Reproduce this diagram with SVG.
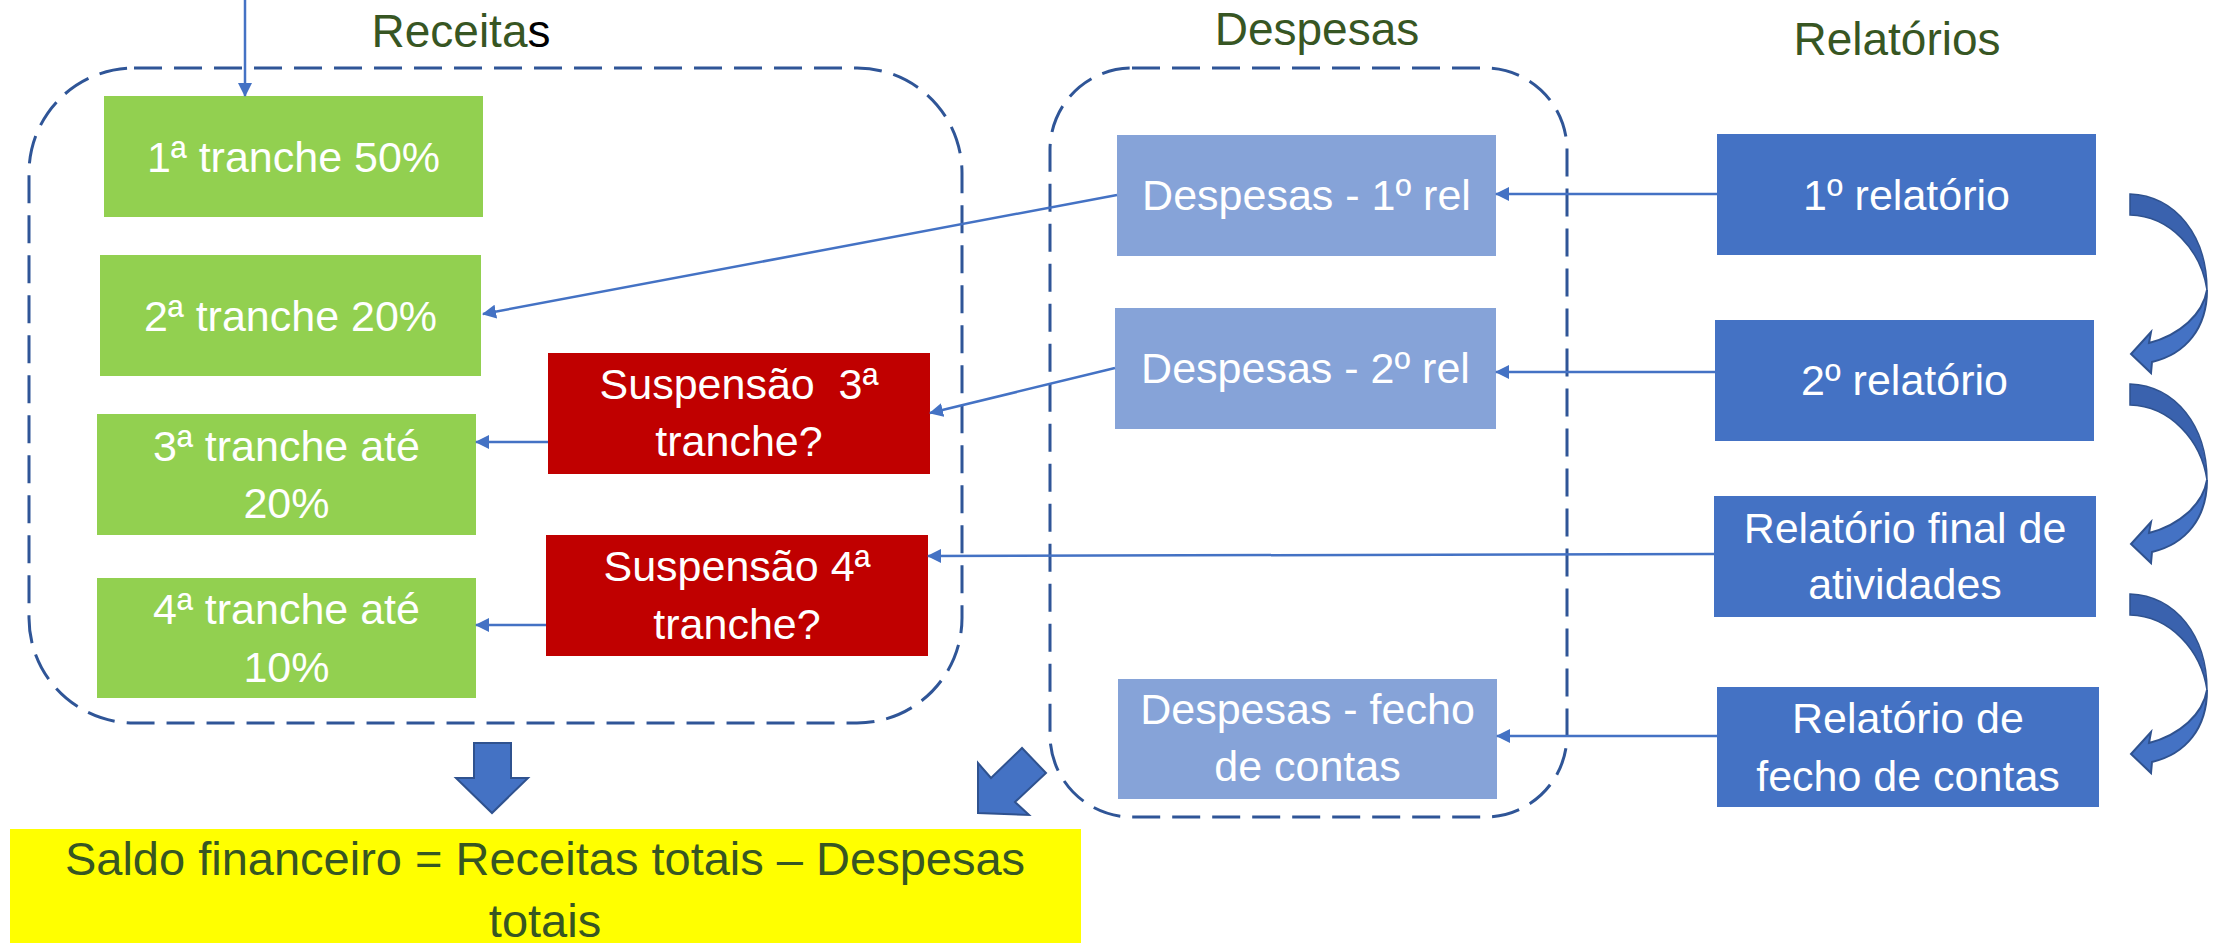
<svg xmlns="http://www.w3.org/2000/svg" width="2214" height="943" viewBox="0 0 2214 943">
<style>
text{font-family:"Liberation Sans",Arial,sans-serif;}
.t{fill:#fff;font-size:43px;text-anchor:middle;}
.title{fill:#375623;font-size:46px;text-anchor:middle;}
.green{fill:#92D050;}
.red{fill:#C00000;}
.lb{fill:#86A3D8;}
.db{fill:#4472C4;}
.dash{fill:none;stroke:#2F5597;stroke-width:3;stroke-dasharray:28 12;}
.con{fill:none;stroke:#4472C4;stroke-width:2.5;marker-end:url(#ah);}
.blk{fill:#4472C4;stroke:#2F528F;stroke-width:2;stroke-linejoin:miter;}
.back{fill:#3A62AE;stroke:#2F528F;stroke-width:1.5;}
</style>
<defs>
<marker id="ah" markerUnits="userSpaceOnUse" markerWidth="14" markerHeight="14" viewBox="0 0 14 14" refX="13" refY="7" orient="auto">
<path d="M0,0 L14,7 L0,14 Z" fill="#4472C4"/>
</marker>
<g id="curved">
<path class="back" d="M2130,194 C2176,196 2207,236 2207,290 C2201,250 2170,216 2130,215 Z"/>
<path class="blk" d="M2207,290 C2207,328 2186,354 2152,362 L2151,373 L2131,354 L2151,332 L2149,343 C2180,335 2203,314 2207,290 Z"/>
</g>
</defs>

<g id="titles">
<text class="title" x="461" y="47">Receita<tspan fill="#000">s</tspan></text>
<text class="title" x="1317" y="45">Despesas</text>
<text class="title" x="1897" y="55" font-size="47">Relatórios</text>
</g>

<g id="groups">
<rect id="receitas-group" class="dash" x="29" y="68" width="933" height="655" rx="105" ry="105"/>
<rect id="despesas-group" class="dash" x="1050" y="68" width="517" height="749" rx="82" ry="82"/>
</g>

<g id="tranche1"><rect class="green" x="104" y="96" width="379" height="121"/><text class="t" x="293.5" y="172">1ª tranche 50%</text></g>
<g id="tranche2"><rect class="green" x="100" y="255" width="381" height="121"/><text class="t" x="290.5" y="331">2ª tranche 20%</text></g>
<g id="tranche3"><rect class="green" x="97" y="414" width="379" height="121"/><text class="t" x="286.5" y="461">3ª tranche até</text><text class="t" x="286.5" y="518">20%</text></g>
<g id="tranche4"><rect class="green" x="97" y="578" width="379" height="120"/><text class="t" x="286.5" y="624">4ª tranche até</text><text class="t" x="286.5" y="682">10%</text></g>
<g id="susp3"><rect class="red" x="548" y="353" width="382" height="121"/><text class="t" x="739" y="399" xml:space="preserve">Suspensão  3ª</text><text class="t" x="739" y="456">tranche?</text></g>
<g id="susp4"><rect class="red" x="546" y="535" width="382" height="121"/><text class="t" x="737" y="581">Suspensão 4ª</text><text class="t" x="737" y="639">tranche?</text></g>

<g id="desp1"><rect class="lb" x="1117" y="135" width="379" height="121"/><text class="t" x="1306.5" y="210">Despesas - 1º rel</text></g>
<g id="desp2"><rect class="lb" x="1115" y="308" width="381" height="121"/><text class="t" x="1305.5" y="383">Despesas - 2º rel</text></g>
<g id="despfecho"><rect class="lb" x="1118" y="679" width="379" height="120"/><text class="t" x="1307.5" y="724">Despesas - fecho</text><text class="t" x="1307.5" y="781">de contas</text></g>

<g id="rel1"><rect class="db" x="1717" y="134" width="379" height="121"/><text class="t" x="1906.5" y="210">1º relatório</text></g>
<g id="rel2"><rect class="db" x="1715" y="320" width="379" height="121"/><text class="t" x="1904.5" y="395">2º relatório</text></g>
<g id="relfinal"><rect class="db" x="1714" y="496" width="382" height="121"/><text class="t" x="1905" y="543">Relatório final de</text><text class="t" x="1905" y="599">atividades</text></g>
<g id="relfecho"><rect class="db" x="1717" y="687" width="382" height="120"/><text class="t" x="1908" y="733">Relatório de</text><text class="t" x="1908" y="791">fecho de contas</text></g>

<g id="saldo"><rect fill="#FFFF00" x="10" y="829" width="1071" height="120"/><text x="545" y="875" font-size="47" fill="#375623" text-anchor="middle">Saldo financeiro = Receitas totais – Despesas</text><text x="545" y="937" font-size="47" fill="#375623" text-anchor="middle">totais</text></g>

<g id="connectors">
<line class="con" x1="245" y1="0" x2="245" y2="96"/>
<line class="con" x1="1117" y1="195" x2="483" y2="314"/>
<line class="con" x1="1115" y1="368" x2="930" y2="413"/>
<line class="con" x1="548" y1="442" x2="476" y2="442"/>
<line class="con" x1="546" y1="625" x2="476" y2="625"/>
<line class="con" x1="1714" y1="554" x2="928" y2="556"/>
<line class="con" x1="1717" y1="194" x2="1496" y2="194"/>
<line class="con" x1="1715" y1="372" x2="1496" y2="372"/>
<line class="con" x1="1717" y1="736" x2="1497" y2="736"/>
</g>

<g id="block-arrows">
<path class="blk" d="M474,743 L511,743 L511,778 L528,778 L492,813 L456,778 L474,778 Z"/>
<path class="blk" d="M978,813 L978,763 L991,778 L1022,748 L1046,773 L1015,802 L1029,815 Z"/>
<use href="#curved"/>
<use href="#curved" transform="translate(0,190)"/>
<use href="#curved" transform="translate(0,400)"/>
</g>
</svg>
